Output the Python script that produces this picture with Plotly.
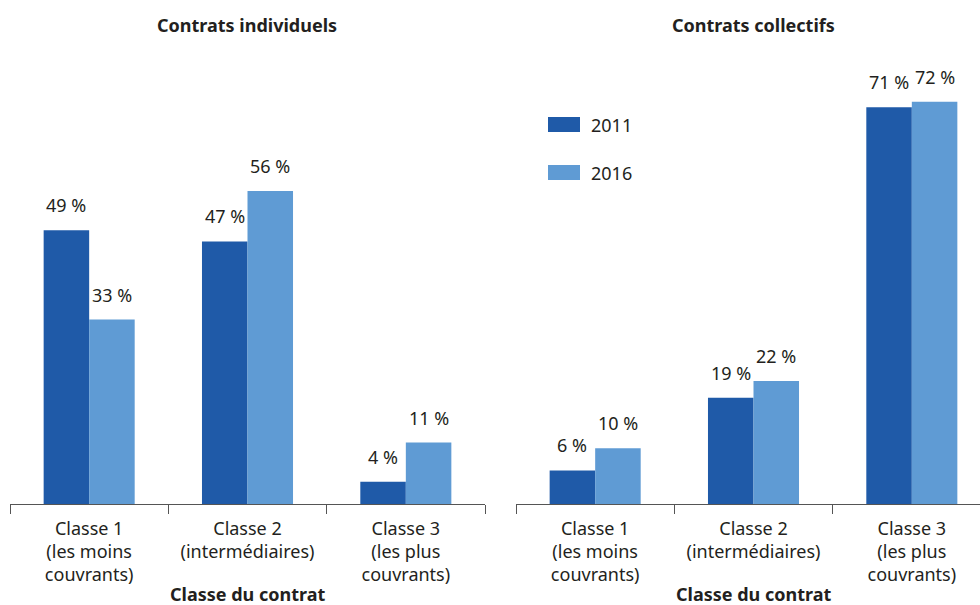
import plotly.graph_objects as go

# Data
categories = ["Classe 1<br>(les moins<br>couvrants)",
              "Classe 2<br>(intermédiaires)",
              "Classe 3<br>(les plus<br>couvrants)"]
years = ["2011", "2016"]
individuels_2011 = [49, 47, 4]
individuels_2016 = [33, 56, 11]
collectifs_2011 = [6, 19, 71]
collectifs_2016 = [10, 22, 72]
panel_titles = ["Contrats individuels", "Contrats collectifs"]
axis_title = "Classe du contrat"

# Styling
DARK = "#1f5aa8"
LIGHT = "#5f9bd4"
TEXT = "#231f20"
FONT = "Noto Sans"
FS = 18
W, H = 980, 605
M_T, M_B = 57, 101
BARGAP = 0.425

fig = go.Figure()

panels = [
    ("x", "y", individuels_2011, individuels_2016),
    ("x2", "y2", collectifs_2011, collectifs_2016),
]
for xa, ya, v11, v16 in panels:
    for vals, color, name, off in ((v11, DARK, years[0], -1), (v16, LIGHT, years[1], 1)):
        fig.add_trace(go.Bar(
            x=categories, y=vals, name=name, marker_color=color,
            marker_line_width=0, xaxis=xa, yaxis=ya, showlegend=False,
        ))
        for i, v in enumerate(vals):
            fig.add_annotation(
                x=i + off * (1 - BARGAP) / 4, y=v, xref=xa, yref=ya,
                text=f"{v} %", showarrow=False, xanchor="center",
                yanchor="bottom", yshift=11,
                font=dict(size=FS, color=TEXT, family=FONT),
            )

plot_h = H - M_T - M_B
cat_px = (485 - 10) / 3
x2_dom = (516 / W, 1.0)
x2_end = -0.5 + (W - 516) / cat_px

axis_common = dict(
    type="category", showline=True, linecolor="#555555", linewidth=1,
    ticks="outside", tickson="boundaries", ticklen=9, tickcolor="#555555",
    tickfont=dict(size=FS, color=TEXT, family=FONT), ticklabelstandoff=8,
    showgrid=False, zeroline=False, fixedrange=True,
)
fig.update_layout(
    width=W, height=H, margin=dict(l=0, r=0, t=M_T, b=M_B),
    paper_bgcolor="white", plot_bgcolor="white",
    barmode="group", bargap=BARGAP, bargroupgap=0,
    xaxis=dict(domain=[10 / W, 485 / W], range=[-0.5, 2.5], anchor="y", **axis_common),
    xaxis2=dict(domain=list(x2_dom), range=[-0.5, x2_end], anchor="y2", **axis_common),
    yaxis=dict(range=[0, 80], visible=False, domain=[0, 1], anchor="x"),
    yaxis2=dict(range=[0, 80], visible=False, domain=[0, 1], anchor="x2"),
    font=dict(family=FONT, color=TEXT),
)

# Panel titles and axis titles
centers = [(10 + 485) / 2 / W, (516 + 516 + 3 * cat_px) / 2 / W]
for cx, t in zip(centers, panel_titles):
    fig.add_annotation(x=cx, y=1 + (M_T - 25) / plot_h, xref="paper", yref="paper",
                       text=f"<b>{t}</b>", showarrow=False, xanchor="center",
                       yanchor="middle", font=dict(size=FS, color=TEXT, family=FONT))
    fig.add_annotation(x=cx, y=-(594 - (H - M_B)) / plot_h, xref="paper", yref="paper",
                       text=f"<b>{axis_title}</b>", showarrow=False, xanchor="center",
                       yanchor="middle", font=dict(size=FS, color=TEXT, family=FONT))

# Legend drawn as swatches with labels
for k, (name, color) in enumerate(zip(years, (DARK, LIGHT))):
    cy = 125 + 48 * k
    y0 = 1 - (cy - 8 - M_T) / plot_h
    y1 = 1 - (cy + 7 - M_T) / plot_h
    fig.add_shape(type="rect", xref="paper", yref="paper",
                  x0=548 / W, x1=580 / W, y0=y1, y1=y0,
                  fillcolor=color, line_width=0)
    fig.add_annotation(x=589 / W, y=1 - (cy - M_T) / plot_h, xref="paper", yref="paper",
                       text=name, showarrow=False, xanchor="left", yanchor="middle",
                       font=dict(size=FS, color=TEXT, family=FONT))

fig.write_html("out.html")
